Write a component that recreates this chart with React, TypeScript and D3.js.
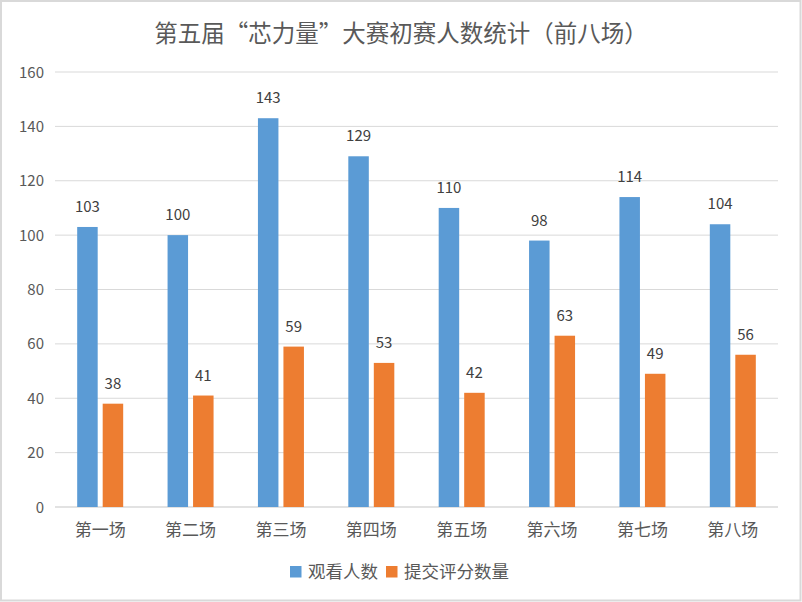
import React from "react";
import * as d3 from "d3";

const categories = ["第一场", "第二场", "第三场", "第四场", "第五场", "第六场", "第七场", "第八场"];
const viewers = [103, 100, 143, 129, 110, 98, 114, 104];
const submissions = [38, 41, 59, 53, 42, 63, 49, 56];
const seriesNames = ["观看人数", "提交评分数量"];
const seriesColors = ["#5B9BD5", "#ED7D31"];
const yTicks = [0, 20, 40, 60, 80, 100, 120, 140, 160];
const title = "第五届“芯力量”大赛初赛人数统计（前八场）";

const W = 802;
const H = 602;
const left = 55;
const right = 778;
const top = 72;
const bottom = 507;
const font = "'Noto Sans CJK SC', 'Noto Sans', sans-serif";

export default function App() {
  const x = d3.scaleBand<string>().domain(categories).range([left, right]).paddingInner(0).paddingOuter(0);
  const y = d3.scaleLinear().domain([0, 160]).range([bottom, top]);
  const barW = 20.5;
  const gap = 5;
  const series = [viewers, submissions];

  return (
    <div style={{ position: "fixed", left: 0, top: 0 }}>
      <svg width={W} height={H} style={{ display: "block", background: "#fff" }}>
        <rect x={1} y={1} width={W - 2.5} height={H - 2.5} fill="#fff" stroke="#D9D9D9" strokeWidth={2} />
        <text x={401} y={42} textAnchor="middle" fontFamily={font} fontSize={23.5} fill="#595959">
          {title}
        </text>
        {yTicks.map((t) => (
          <g key={t}>
            <line x1={left} x2={right} y1={y(t)} y2={y(t)} stroke="#D9D9D9" strokeWidth={t === 0 ? 1.5 : 1} />
            <text x={44} y={y(t) + 5.5} textAnchor="end" fontFamily={font} fontSize={15} fill="#595959">
              {t}
            </text>
          </g>
        ))}
        {categories.map((c, i) => {
          const cx = (x(c) as number) + x.bandwidth() / 2;
          return (
            <g key={c}>
              {series.map((s, k) => {
                const bx = k === 0 ? cx - gap / 2 - barW : cx + gap / 2;
                const v = s[i];
                return (
                  <g key={k}>
                    <rect x={bx} y={y(v)} width={barW} height={bottom - y(v)} fill={seriesColors[k]} />
                    <text x={bx + barW / 2} y={y(v) - 15} textAnchor="middle" fontFamily={font} fontSize={15} fill="#404040">
                      {v}
                    </text>
                  </g>
                );
              })}
              <text x={cx} y={536} textAnchor="middle" fontFamily={font} fontSize={17} fill="#595959">
                {c}
              </text>
            </g>
          );
        })}
        <g>
          <rect x={290} y={566} width={11.5} height={11.5} fill={seriesColors[0]} />
          <text x={308} y={578} fontFamily={font} fontSize={17.5} fill="#595959">{seriesNames[0]}</text>
          <rect x={386} y={566} width={11.5} height={11.5} fill={seriesColors[1]} />
          <text x={404} y={578} fontFamily={font} fontSize={17.5} fill="#595959">{seriesNames[1]}</text>
        </g>
      </svg>
    </div>
  );
}
